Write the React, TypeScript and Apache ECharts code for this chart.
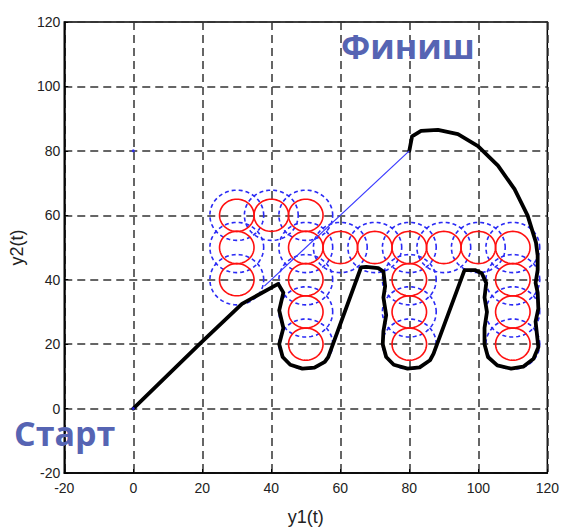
import React, { useEffect, useRef } from "react";
import * as echarts from "echarts";

const axisTicks = [-20, 0, 20, 40, 60, 80, 100, 120];

// Obstacle circle centers
const circleX = [30, 40, 50, 30, 30, 50, 50, 50, 50, 60, 70, 80, 80, 80, 80, 90, 100, 110, 110, 110, 110];
const circleY = [60, 60, 60, 50, 40, 50, 40, 30, 20, 50, 50, 50, 40, 30, 20, 50, 50, 50, 40, 30, 20];
const obstacleRadius = 5;
const safetyRadius = 7.8;

// Robot trajectory
const pathX = [0, 19.5, 31.5, 42, 43.5, 42.3, 43.5, 42.3, 43.3, 45.5, 49, 52.5, 55.5, 56.5, 66, 67.5, 71, 72.5, 73, 72.5, 73.3, 72.5, 72.3, 73.3, 75.5, 79.5, 83, 86, 87, 96, 99, 101, 102.3, 101.8, 102.5, 101.8, 101.8, 102.8, 105.5, 109.5, 113, 116, 117.4, 117, 116.6, 117.4, 117.2, 116.6, 117.2, 117.2, 116.7, 114.3, 110.5, 105.7, 99.9, 94.1, 88.3, 83.4, 80.8, 80];
const pathY = [0, 20.3, 32.5, 38.7, 36, 30.5, 25, 20, 16, 13.6, 12.4, 12.7, 14.5, 16, 43.8, 44, 43.6, 42.5, 38, 34.5, 29, 24, 20, 16, 13.6, 12.4, 12.8, 15, 17, 43, 43, 42, 39, 34.5, 30, 25, 20, 16, 13.4, 12.4, 13, 15.5, 19, 23, 27, 31, 36, 39, 43, 47.5, 51.6, 59.9, 68.1, 75.4, 81.5, 85.2, 86.5, 86.2, 84.5, 80];

// Direct line toward target
const directX = [38, 80];
const directY = [38, 80];

// Marker points
const markX = [0, 0];
const markY = [0, 80];

const startLabel = "Старт";
const finishLabel = "Финиш";
const xName = "y1(t)";
const yName = "y2(t)";

function circleSeries(r: number, color: string, dash: number[] | null) {
  return {
    type: "custom",
    coordinateSystem: "cartesian2d",
    data: circleX.map((x, i) => [x, circleY[i]]),
    encode: { x: 0, y: 1 },
    silent: true,
    renderItem: (params: any, api: any) => {
      const cx = api.value(0);
      const cy = api.value(1);
      const pts: number[][] = [];
      const n = 64;
      for (let k = 0; k < n; k++) {
        const a = (k / n) * Math.PI * 2;
        pts.push(api.coord([cx + r * Math.cos(a), cy + r * Math.sin(a)]));
      }
      return {
        type: "polygon",
        shape: { points: pts },
        style: {
          fill: "none",
          stroke: color,
          lineWidth: 1.6,
          lineDash: dash || undefined,
        },
      };
    },
  };
}

export default function App() {
  const ref = useRef<HTMLDivElement>(null);
  useEffect(() => {
    if (!ref.current) return;
    const chart = echarts.init(ref.current, null, { renderer: "svg" });
    const axisCommon = {
      type: "value",
      min: -20,
      max: 120,
      interval: 20,
      axisLine: { show: true, onZero: false, lineStyle: { color: "#000", width: 1.5 } },
      axisTick: { show: true, inside: true, length: 4, lineStyle: { color: "#000" } },
      splitLine: { show: true, lineStyle: { color: "#333", width: 1.5, type: [8, 5] } },
      nameTextStyle: { fontFamily: "Liberation Sans", fontSize: 18, color: "#222" },
      nameLocation: "middle",
    };
    chart.setOption({
      animation: false,
      backgroundColor: "#fff",
      grid: {
        left: 64,
        top: 22,
        width: 485,
        height: 452,
        show: true,
        borderColor: "#000",
        borderWidth: 1.5,
        backgroundColor: "transparent",
      },
      xAxis: {
        ...axisCommon,
        name: xName,
        nameGap: 35,
        axisLabel: {
          fontFamily: "Liberation Sans",
          fontSize: 14,
          color: "#222",
          margin: 8,
          formatter: (v: number) => (axisTicks.includes(v) ? String(v) : ""),
        },
      },
      yAxis: {
        ...axisCommon,
        name: yName,
        nameGap: 34,
        nameRotate: 90,
        axisLabel: {
          fontFamily: "Liberation Sans",
          fontSize: 14,
          color: "#222",
          margin: 4,
          formatter: (v: number) => (axisTicks.includes(v) ? String(v) : ""),
        },
      },
      series: [
        circleSeries(safetyRadius, "#2a2af5", [4, 3]),
        circleSeries(obstacleRadius, "#ff1010", null),
        {
          type: "line",
          data: pathX.map((x, i) => [x, pathY[i]]),
          showSymbol: false,
          symbol: "none",
          lineStyle: { color: "#000", width: 3.8, join: "round", cap: "round" },
          silent: true,
          z: 5,
        },
        {
          type: "line",
          data: directX.map((x, i) => [x, directY[i]]),
          showSymbol: false,
          symbol: "none",
          lineStyle: { color: "#3a3aff", width: 1.2 },
          silent: true,
          z: 6,
        },
        {
          type: "scatter",
          data: markX.map((x, i) => [x, markY[i]]),
          symbol: "circle",
          symbolSize: 3,
          itemStyle: { color: "#2020ff" },
          silent: true,
          z: 7,
        },
      ],
      graphic: [
        {
          type: "text",
          left: 341,
          top: 29,
          z: 100,
          style: {
            text: finishLabel,
            fontFamily: "Open Sans",
            fontWeight: "bold",
            fontSize: 34,
            fill: "#5664b3",
          },
        },
        {
          type: "text",
          left: 14,
          top: 416,
          z: 100,
          style: {
            text: startLabel,
            fontFamily: "Open Sans",
            fontWeight: "bold",
            fontSize: 34,
            fill: "#5664b3",
          },
        },
      ],
    });
    return () => chart.dispose();
  }, []);
  return (
    <div
      ref={ref}
      style={{ position: "absolute", left: 0, top: 0, width: 562, height: 531 }}
    />
  );
}
